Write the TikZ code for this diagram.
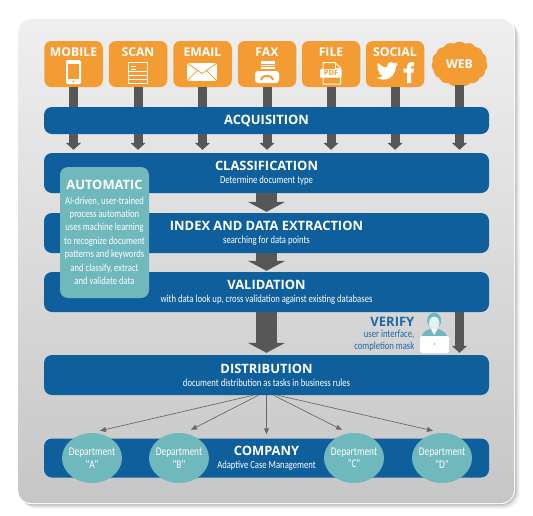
\documentclass[tikz,border=0pt]{standalone}
\usepackage{fontspec}
\setmainfont{Open Sans}
\newfontfamily\condf[FakeStretch=0.8]{Carlito}
\usetikzlibrary{arrows.meta,shapes.geometric,shapes.symbols,svg.path,calc,positioning}
\definecolor{orng}{HTML}{F39C33}
\definecolor{barblue}{HTML}{0E5F9C}
\definecolor{tealc}{HTML}{6FB8BC}
\definecolor{arrowg}{HTML}{575757}
\definecolor{thing}{HTML}{6A6A6A}
\definecolor{verifyb}{HTML}{1B69A6}
\definecolor{paneltop}{HTML}{EFEFEF}
\definecolor{panelbot}{HTML}{C6C6C6}
\definecolor{facec}{HTML}{E4F2F2}
\tikzset{
  x=1pt,y=-1pt,
  tile/.style={fill=orng,rounded corners=7pt,minimum width=58.5pt,minimum height=46pt,inner sep=0pt},
  tiletext/.style={text=white,font=\fontsize{12.2}{13}\selectfont\bfseries,inner sep=0pt},
  bar/.style={fill=barblue,rounded corners=8pt,minimum width=445pt,inner sep=0pt,text=white,align=center},
  small arrow/.style={draw=arrowg,line width=9pt,-{Triangle[width=15pt,length=7pt]}},
  shaft/.style={draw=arrowg,line width=9pt},
  big arrow/.style={draw=arrowg,line width=21pt,-{Triangle[width=37pt,length=10pt]}},
  thin arrow/.style={draw=thing,line width=.7pt,-{Triangle[width=5pt,length=6pt]}},
  dept/.style={ellipse,fill=tealc,minimum width=60pt,minimum height=50pt,inner ysep=0pt,inner xsep=-3pt,text=white,align=center,
    font=\condf\fontsize{11.7}{12.5}\selectfont},
}
\newcommand{\ttlf}{\fontsize{12.9}{14}\selectfont\bfseries}
\newcommand{\subf}{\condf\fontsize{10.8}{12}\selectfont}
\begin{document}
\begin{tikzpicture}
\useasboundingbox (0,0) rectangle (533,515);
% panel shadow
\foreach \o/\a in {5/.03,4/.04,3/.05,2/.07,1/.09}{
  \fill[black,opacity=\a,rounded corners=15pt] (17+\o,18+\o) rectangle (515+\o,504+\o);
}
\fill[white,rounded corners=14pt] (17,18) rectangle (515,504);
\shade[top color=paneltop,bottom color=panelbot,rounded corners=13pt] (18,19) rectangle (514,503);
% source tiles
\node[tile] (mobile) at (73.5,64) {};
\node[tile] (scan) at (138,64) {};
\node[tile] (email) at (202.5,64) {};
\node[tile] (fax) at (267,64) {};
\node[tile] (file) at (331,64) {};
\node[tile] (social) at (395,64) {};
\node[cloud,fill=orng,cloud puffs=15,cloud puff arc=85,aspect=1.2,minimum width=56pt,minimum height=45pt,inner sep=0pt,
      text=white,font=\fontsize{12.2}{13}\selectfont\bfseries] (web) at (459.5,64) {WEB};
\node[tiletext] (tmobile) at (73.5,52) {MOBILE};
\node[tiletext] (tscan) at (138,52) {SCAN};
\node[tiletext] (temail) at (202.5,52) {EMAIL};
\node[tiletext] (tfax) at (267,52) {FAX};
\node[tiletext] (tfile) at (331,52) {FILE};
\node[tiletext] (tsocial) at (395,52) {SOCIAL};
% bars
\node[bar,minimum height=27pt,font=\ttlf] (acq) at (266.5,120.5) {ACQUISITION};
\node[bar,minimum height=40pt] (class) at (266.5,173) {{\ttlf CLASSIFICATION}\\[1pt]{\subf Determine document type}};
\node[bar,minimum height=40pt] (index) at (266.5,233) {{\ttlf INDEX AND DATA EXTRACTION}\\[1pt]{\subf searching for data points}};
\node[bar,minimum height=40pt] (valid) at (266.5,292) {{\ttlf VALIDATION}\\[1pt]{\subf with data look up, cross validation against existing databases}};
\node[bar,minimum height=40pt] (dist) at (266.5,375) {{\ttlf DISTRIBUTION}\\[1pt]{\subf document distribution as tasks in business rules}};
\node[bar,minimum height=39pt] (company) at (266.5,458) {{\ttlf COMPANY}\\[1pt]{\subf Adaptive Case Management}};
% small arrows
\foreach \n in {mobile,scan,email,fax,file,social,web}{
  \draw[shaft] (\n.south) -- (\n.south |- acq.north);
  \draw[small arrow,shorten >=3pt] (\n.south |- acq.south) -- (\n.south |- class.north);
}
% big arrows
\draw[big arrow,shorten >=1pt] (class.south) -- (index.north);
\draw[big arrow,shorten >=1pt] (index.south) -- (valid.north);
\draw[big arrow,shorten >=2pt] (valid.south) -- (dist.north);
\coordinate (vx) at (459.5,300);
\draw[small arrow,shorten >=2pt] (vx |- valid.south) -- (vx |- dist.north);
% automatic
\node[fill=tealc,rounded corners=8pt,minimum width=89pt,minimum height=131pt,inner sep=0pt,text=white,align=center,
      font=\condf\fontsize{10.8}{13.4}\selectfont] (auto) at (104.5,232.5)
  {{\normalfont\fontsize{12.9}{14}\selectfont\bfseries AUTOMATIC}\\[1pt]
   AI-driven, user-trained\\process automation\\uses machine learning\\to recognize document\\patterns and keywords\\and classify, extract\\and validate data};
% verify
\node[anchor=east,inner sep=0pt,text=verifyb,align=right,font=\condf\fontsize{10.8}{11.5}\selectfont] (verify) at (414.5,334)
  {{\normalfont\fontsize{13}{13}\selectfont\bfseries VERIFY}\\user interface,\\completion mask};
% departments
\node[dept] (depta) at (92,458) {Department\\"A"};
\node[dept] (deptb) at (179,458) {Department\\"B"};
\node[dept] (deptc) at (354,458) {Department\\"C"};
\node[dept] (deptd) at (442,458) {Department\\"D"};
\draw[thin arrow] ([xshift=-13pt]dist.south) -- ([xshift=8pt,yshift=2pt]depta.north);
\draw[thin arrow] ([xshift=-8pt]dist.south) -- ([xshift=12pt,yshift=3pt]deptb.north);
\draw[thin arrow] (dist.south) -- ([yshift=4pt]company.north);
\draw[thin arrow] ([xshift=7pt]dist.south) -- ([xshift=-12pt,yshift=3pt]deptc.north);
\draw[thin arrow] ([xshift=11pt]dist.south) -- ([xshift=-9pt,yshift=2pt]deptd.north);
% --- icons ---
% phone
\fill[white,rounded corners=1.5pt] (66,60) rectangle (81,84);
\fill[orng] (68,63.5) rectangle (79,79);
\fill[orng] (73.5,81.5) circle (1.2pt);
% scan
\draw[white,line width=1pt] (128.5,62.5) rectangle (147.5,83);
\draw[white,line width=1pt] (128.5,71.5) -- (147.5,71.5) (128.5,75.5) -- (147.5,75.5) (128.5,79.5) -- (147.5,79.5);
\draw[white,line width=1pt] (131,66) -- (136,66) (131,69) -- (136,69);
% email
\fill[white] (187,63) rectangle (217,81);
\draw[orng,line width=.8pt] (187,63) -- (202,73.5) -- (217,63) (187,81) -- (197.5,70.3) (217,81) -- (206.5,70.3);
% fax
\fill[white,rounded corners=3pt] (255,71) rectangle (279,83);
\fill[white] (261,61) rectangle (275,70);
\draw[orng,line width=.7pt] (261,64) -- (275,64) (261,66.5) -- (275,66.5) (261,69) -- (275,69);
\draw[orng,line width=2pt,line cap=round] (261,79.5) .. controls (262,74.5) and (272,74.5) .. (273,79.5);
% file
\draw[white,line width=1pt,line join=round] (323,62.5) -- (335,62.5) -- (340.5,68) -- (340.5,84) -- (323,84) -- cycle;
\draw[white,line width=1pt] (335,62.5) -- (335,68) -- (340.5,68);
\fill[white,rounded corners=1pt] (320,69) rectangle (341.5,77.5);
\node[inner sep=0pt,text=orng,font=\fontsize{7.5}{8}\selectfont\bfseries] (pdf) at (331,73.2) {PDF};
% twitter bird
\fill[white,shift={(376.5,60)},xscale=.9,yscale=-.9] svg {M 23.954 4.569 c -0.885 0.389 -1.83 0.654 -2.825 0.775 c 1.014 -0.611 1.794 -1.574 2.163 -2.723 c -0.951 0.555 -2.005 0.959 -3.127 1.184 c -0.896 -0.959 -2.173 -1.559 -3.591 -1.559 c -2.717 0 -4.92 2.203 -4.92 4.917 c 0 0.39 0.045 0.765 0.127 1.124 C 7.691 8.094 4.066 6.13 1.64 3.161 c -0.427 0.722 -0.666 1.561 -0.666 2.475 c 0 1.71 0.87 3.213 2.188 4.096 c -0.807 -0.026 -1.566 -0.248 -2.228 -0.616 v 0.061 c 0 2.385 1.693 4.374 3.946 4.827 c -0.413 0.111 -0.849 0.171 -1.296 0.171 c -0.314 0 -0.615 -0.03 -0.916 -0.086 c 0.631 1.953 2.445 3.377 4.604 3.417 c -1.68 1.319 -3.809 2.105 -6.102 2.105 c -0.39 0 -0.779 -0.023 -1.17 -0.067 c 2.189 1.394 4.768 2.209 7.557 2.209 c 9.054 0 13.999 -7.496 13.999 -13.986 c 0 -0.209 0 -0.42 -0.015 -0.63 c 0.961 -0.689 1.8 -1.56 2.46 -2.548 z};
% facebook f
\fill[white] (407,83) -- (407,72.5) -- (403.5,72.5) -- (403.5,68.5) -- (407,68.5) -- (407,66.5) .. controls (407,63.5) and (409,62) .. (411,62) -- (414,62) -- (414,66) -- (412,66) .. controls (411.3,66) and (411,66.4) .. (411,67) -- (411,68.5) -- (414,68.5) -- (413.5,72.5) -- (411,72.5) -- (411,83) -- cycle;
% person
\fill[tealc] (421,341) .. controls (421,333) and (425,330.5) .. (430,329) -- (438,329) .. controls (443,330.5) and (448,333) .. (448,341) -- cycle;
\fill[white] (431,329) -- (437.5,329) -- (434.2,335) -- cycle;
\fill[tealc] (434.2,320.5) ellipse (7pt and 8pt);
\fill[facec] (434.2,323) ellipse (5.2pt and 6.4pt);
\fill[white,rounded corners=1.5pt] (420,336) rectangle (449,353);
\fill[tealc] (434.5,344) circle (.9pt);
\end{tikzpicture}
\end{document}
